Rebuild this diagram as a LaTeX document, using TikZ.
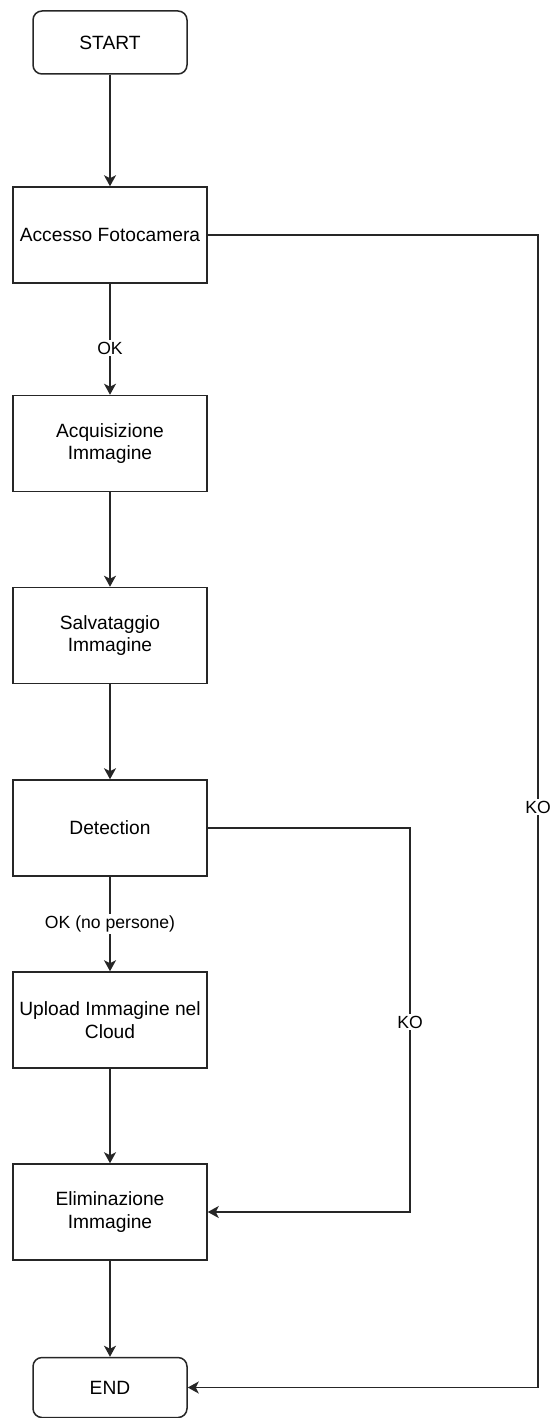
\documentclass[tikz,border=0pt]{standalone}
\usepackage{fontspec}
\setmainfont{Liberation Sans}
\usetikzlibrary{arrows.meta}
\begin{document}
\begin{tikzpicture}[x=1pt,y=-1pt,
  every node/.style={font=\fontsize{19.2}{22.5}\selectfont},
  procbox/.style={draw=black!85, line width=1.5pt, minimum width=194pt, minimum height=96pt, inner sep=0pt, align=center},
  termbox/.style={draw=black!85, line width=1.5pt, rounded corners=9pt, minimum width=154pt, inner sep=0pt, align=center},
  arr/.style={draw=black!85, line width=1.5pt, -{Stealth[length=11pt,width=12pt,inset=3pt]}},
  elabel/.style={fill=white, inner sep=2pt, font=\fontsize{17.6}{20}\selectfont}
]
\useasboundingbox (0,0) rectangle (552,1418);

\node[termbox, minimum height=63pt] (start) at (110,42.5) {START};
\node[procbox] (acc) at (110,235) {Accesso Fotocamera};
\node[procbox] (acq) at (110,443.5) {Acquisizione\\Immagine};
\node[procbox] (salv) at (110,635.5) {Salvataggio\\Immagine};
\node[procbox] (det) at (110,828) {Detection};
\node[procbox] (up) at (110,1020) {Upload Immagine nel\\Cloud};
\node[procbox] (elim) at (110,1212) {Eliminazione\\Immagine};
\node[termbox, minimum height=60pt] (end) at (110,1387.5) {END};

\coordinate (rx) at (538,0);
\coordinate (mx) at (410,0);

\draw[arr] (start) -- (acc);
\draw[arr] (acc) -- node[elabel, pos=0.58] (lok) {OK} (acq);
\draw[arr] (acq) -- (salv);
\draw[arr] (salv) -- (det);
\draw[arr] (det) -- node[elabel, pos=0.5] (lokp) {OK (no persone)} (up);
\draw[arr] (up) -- (elim);
\draw[arr] (elim) -- (end);

\draw[arr] (det.east) -| (mx |- elim.east) -- (elim.east);
\node[elabel] (lko1) at (410,1022) {KO};

\draw[arr] (acc.east) -| (rx |- end.east) -- (end.east);
\node[elabel] (lko2) at (538,807) {KO};
\end{tikzpicture}
\end{document}
